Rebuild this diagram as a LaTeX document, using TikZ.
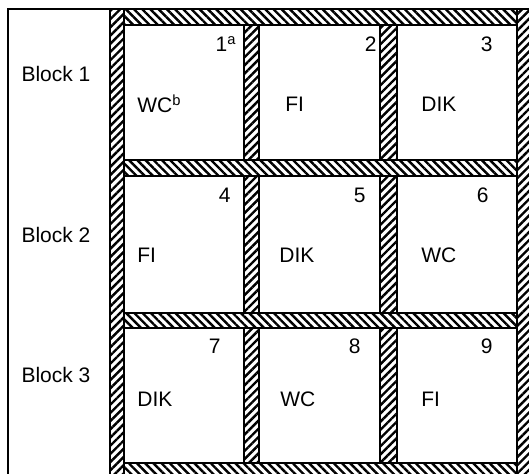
\documentclass[tikz,border=0pt]{standalone}
\usepackage{fontspec}
\setmainfont{Liberation Sans}
\usetikzlibrary{patterns.meta}
\tikzset{
  wall/.style={draw=black, line width=1pt},
  hwall/.style={wall, pattern={Lines[angle=-45,distance=2.9pt,line width=1.2pt]}},
  vwall/.style={wall, pattern={Lines[angle=45,distance=2.9pt,line width=1.2pt]}},
  lbl/.style={font=\fontsize{10.5}{12}\selectfont, inner sep=0pt},
  plotno/.style={lbl, anchor=base east},
  treat/.style={lbl, anchor=base west},
  blocklbl/.style={lbl, anchor=base},
}
\begin{document}
\begin{tikzpicture}[x=0.5pt,y=-0.5pt]
  \useasboundingbox (0,0) rectangle (529,474);
  \begin{scope}
    \clip (0,0) rectangle (529,474);
    % block column frame
    \draw[wall] (8,480) -- (8,9) -- (110,9);
    % outer walls
    \draw[vwall] (110,9) rectangle (124,480);
    \draw[vwall] (517,9) rectangle (533,480);
    \foreach \ya/\yb in {9/25,160/176,313/328,463/480}
      \draw[hwall] (124,\ya) rectangle (517,\yb);
    % walls between plots
    \foreach \ya/\yb in {25/160,176/313,328/463} {
      \draw[vwall] (244,\ya) rectangle (259,\yb);
      \draw[vwall] (380,\ya) rectangle (397,\yb);
    }
  \end{scope}
  % blocks
  \node[blocklbl] (blk1) at (56,82)  {Block 1};
  \node[blocklbl] (blk2) at (56,243) {Block 2};
  \node[blocklbl] (blk3) at (56,383) {Block 3};
  % plot numbers
  \node[plotno] (p1) at (237,52)  {1\textsuperscript{a}};
  \node[plotno] (p2) at (377,52)  {2};
  \node[plotno] (p3) at (493,52)  {3};
  \node[plotno] (p4) at (231,203) {4};
  \node[plotno] (p5) at (366,203) {5};
  \node[plotno] (p6) at (489,203) {6};
  \node[plotno] (p7) at (221,354) {7};
  \node[plotno] (p8) at (361,354) {8};
  \node[plotno] (p9) at (493,354) {9};
  % treatments
  \node[treat] (t1) at (137,113) {WC\textsuperscript{b}};
  \node[treat] (t2) at (285,112) {FI};
  \node[treat] (t3) at (421,112) {DIK};
  \node[treat] (t4) at (137,263) {FI};
  \node[treat] (t5) at (279,263) {DIK};
  \node[treat] (t6) at (421,263) {WC};
  \node[treat] (t7) at (137,407) {DIK};
  \node[treat] (t8) at (280,407) {WC};
  \node[treat] (t9) at (421,407) {FI};
\end{tikzpicture}
\end{document}
